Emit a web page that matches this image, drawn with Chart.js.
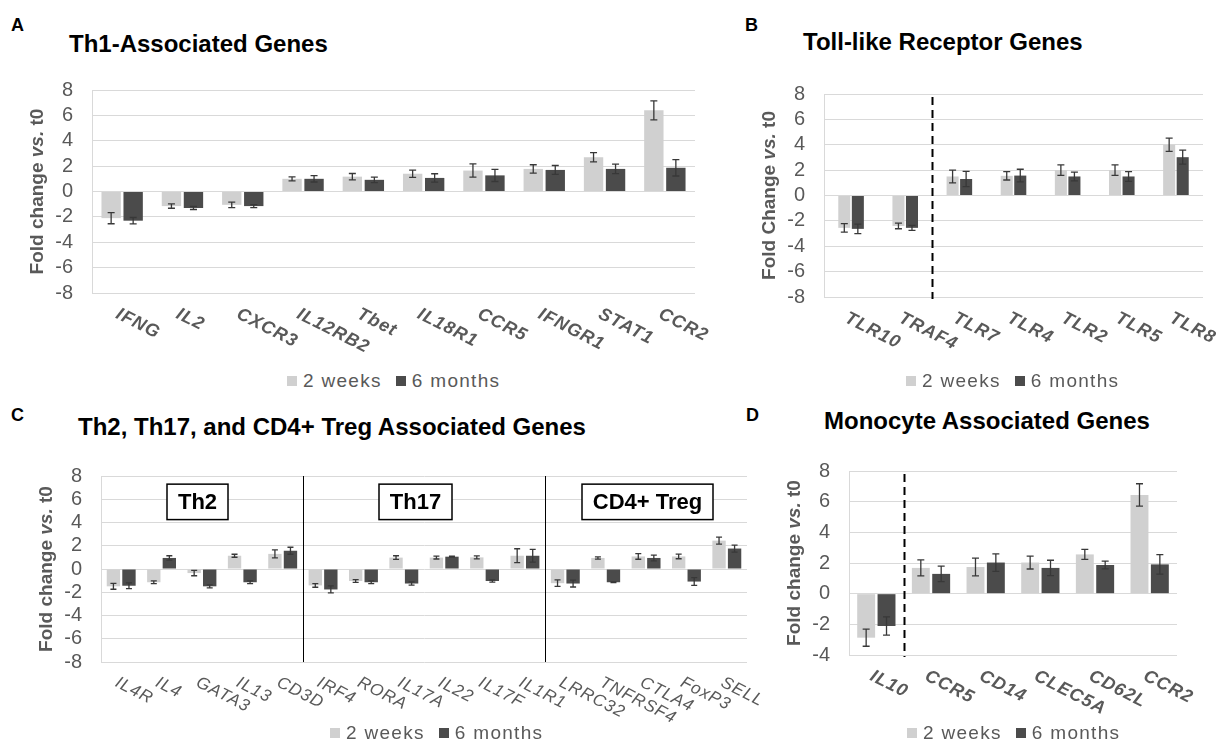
<!DOCTYPE html>
<html>
<head>
<meta charset="utf-8">
<script src="https://cdn.jsdelivr.net/npm/chart.js@4.4.0/dist/chart.umd.min.js"></script>
<style>
  body { margin: 0; width: 1225px; height: 742px; background: #fff; position: relative; overflow: hidden;
         font-family: 'Liberation Sans', Arial, sans-serif; }
  .abs { position: absolute; white-space: nowrap; color: #000; font-weight: bold; }
  .lbl { font-size: 18px; line-height: 18px; }
  .ttl { font-size: 24px; line-height: 24px; }
  .leg { position: absolute; height: 22px; display: flex; align-items: center; font-size: 19px;
         letter-spacing: 1.3px; color: #595959; white-space: nowrap; }
  .sw { width: 10px; height: 10px; margin-right: 6px; }
  .gap { width: 14px; }
  canvas { position: absolute; }
</style>
</head>
<body>
<div class="abs lbl" style="left:11px;top:16px">A</div>
<div class="abs ttl" style="left:69px;top:32px">Th1-Associated Genes</div>
<div class="abs lbl" style="left:745px;top:16px">B</div>
<div class="abs ttl" style="left:803px;top:30px">Toll-like Receptor Genes</div>
<div class="abs lbl" style="left:11px;top:406px">C</div>
<div class="abs ttl" style="left:78px;top:415px">Th2, Th17, and CD4+ Treg Associated Genes</div>
<div class="abs lbl" style="left:746px;top:406px">D</div>
<div class="abs ttl" style="left:824px;top:409px">Monocyte Associated Genes</div>

<script>
// Serier
const seriesNames = ['2 weeks', '6 months'];
const seriesColors = ['#d0d0d0', '#4b4b4b'];
const yStep = 2;

// A - Th1
const thOneGenes = ['IFNG', 'IL2', 'CXCR3', 'IL12RB2', 'Tbet', 'IL18R1', 'CCR5', 'IFNGR1', 'STAT1', 'CCR2'];
const thOne2wk = [-2.1, -1.15, -1.05, 1.0, 1.17, 1.4, 1.65, 1.78, 2.7, 6.4];
const thOne2wkErr = [0.44, 0.17, 0.22, 0.16, 0.25, 0.29, 0.52, 0.33, 0.37, 0.75];
const thOne6mo = [-2.3, -1.3, -1.15, 1.0, 0.92, 1.07, 1.27, 1.7, 1.78, 1.87];
const thOne6moErr = [0.25, 0.12, 0.12, 0.25, 0.22, 0.33, 0.48, 0.35, 0.37, 0.65];

// B - TLR
const tlrGenes = ['TLR10', 'TRAF4', 'TLR7', 'TLR4', 'TLR2', 'TLR5', 'TLR8'];
const tlr2wk = [-2.55, -2.4, 1.5, 1.55, 2.0, 2.0, 4.0];
const tlr2wkErr = [0.34, 0.22, 0.5, 0.33, 0.42, 0.42, 0.52];
const tlr6mo = [-2.63, -2.55, 1.3, 1.57, 1.5, 1.5, 3.02];
const tlr6moErr = [0.37, 0.2, 0.6, 0.5, 0.35, 0.38, 0.55];

// C - Th2 / Th17 / Treg
const tregGenes = ['IL4R', 'IL4', 'GATA3', 'IL13', 'CD3D', 'IRF4', 'RORA', 'IL17A', 'IL22', 'IL17F',
                   'IL1R1', 'LRRC32', 'TNFRSF4', 'CTLA4', 'FoxP3', 'SELL'];
const treg2wk = [-1.49, -1.14, -0.35, 1.14, 1.3, -1.41, -1.03, 0.98, 0.98, 1.0,
                 1.14, -1.22, 0.95, 1.08, 1.08, 2.44];
const treg2wkErr = [0.25, 0.11, 0.23, 0.13, 0.34, 0.16, 0.12, 0.16, 0.12, 0.13,
                    0.6, 0.28, 0.1, 0.24, 0.2, 0.3];
const treg6mo = [-1.44, 0.95, -1.49, -1.14, 1.57, -1.76, -1.14, -1.25, 1.06, -1.03,
                 1.14, -1.25, -1.14, 0.95, -1.08, 1.76];
const treg6moErr = [0.24, 0.19, 0.13, 0.11, 0.3, 0.3, 0.12, 0.14, 0.04, 0.1,
                    0.55, 0.3, 0.04, 0.25, 0.33, 0.3];
const tregGroups = ['Th2', 'Th17', 'CD4+ Treg'];

// D - Monocyte
const monoGenes = ['IL10', 'CCR5', 'CD14', 'CLEC5A', 'CD62L', 'CCR2'];
const mono2wk = [-2.87, 1.68, 1.74, 2.03, 2.56, 6.44];
const mono2wkErr = [0.56, 0.52, 0.58, 0.42, 0.33, 0.73];
const mono6mo = [-2.11, 1.29, 2.03, 1.68, 1.87, 1.91];
const mono6moErr = [0.6, 0.5, 0.57, 0.5, 0.25, 0.64];

const FONT = "'Liberation Sans', Arial, sans-serif";
const GRAY = '#595959';

// feilstolper
const errorBars = {
  id: 'errorBars',
  afterDatasetsDraw(chart, args, opts) {
    const ctx = chart.ctx, y = chart.scales.y;
    chart.data.datasets.forEach((ds, i) => {
      chart.getDatasetMeta(i).data.forEach((bar, j) => {
        const top = y.getPixelForValue(ds.data[j] + ds.errors[j]);
        const bot = y.getPixelForValue(ds.data[j] - ds.errors[j]);
        ctx.save();
        ctx.strokeStyle = '#383838';
        ctx.lineWidth = 1.3;
        ctx.beginPath();
        ctx.moveTo(bar.x, top); ctx.lineTo(bar.x, bot);
        ctx.moveTo(bar.x - opts.cap, top); ctx.lineTo(bar.x + opts.cap, top);
        ctx.moveTo(bar.x - opts.cap, bot); ctx.lineTo(bar.x + opts.cap, bot);
        ctx.stroke();
        ctx.restore();
      });
    });
  }
};

// skrå kategorietiketter
const slantLabels = {
  id: 'slantLabels',
  afterDraw(chart, args, opts) {
    const ctx = chart.ctx, x = chart.scales.x, area = chart.chartArea;
    ctx.save();
    ctx.font = opts.font;
    ctx.fillStyle = GRAY;
    ctx.letterSpacing = '1px';
    ctx.textAlign = 'left';
    ctx.textBaseline = 'top';
    chart.data.labels.forEach((lab, i) => {
      ctx.save();
      ctx.translate(x.getPixelForValue(i) - 1, area.bottom + 12);
      ctx.rotate(27 * Math.PI / 180);
      ctx.fillText(lab, 0, 0);
      ctx.restore();
    });
    ctx.restore();
  }
};

// y-aksetittel med kursiv "vs."
const yTitle = {
  id: 'yTitle',
  afterDraw(chart, args, opts) {
    const ctx = chart.ctx, area = chart.chartArea;
    const parts = [[opts.text[0], 'bold '], [opts.text[1], 'italic bold '], [opts.text[2], 'bold ']];
    ctx.save();
    ctx.fillStyle = GRAY;
    ctx.textBaseline = 'middle';
    ctx.textAlign = 'left';
    let total = 0;
    parts.forEach(p => { ctx.font = p[1] + '19px ' + FONT; total += ctx.measureText(p[0]).width; });
    ctx.translate(area.left - 54, (area.top + area.bottom) / 2);
    ctx.rotate(-Math.PI / 2);
    let pos = -total / 2;
    parts.forEach(p => {
      ctx.font = p[1] + '19px ' + FONT;
      ctx.fillText(p[0], pos, 0);
      pos += ctx.measureText(p[0]).width;
    });
    ctx.restore();
  }
};

// skillelinjer mellom grupper
const separators = {
  id: 'separators',
  afterDatasetsDraw(chart, args, opts) {
    if (!opts.after) return;
    const ctx = chart.ctx, x = chart.scales.x, area = chart.chartArea;
    ctx.save();
    ctx.strokeStyle = '#000';
    ctx.lineWidth = opts.width;
    ctx.setLineDash(opts.dash);
    opts.after.forEach(i => {
      const px = Math.round((x.getPixelForValue(i) + x.getPixelForValue(i + 1)) / 2) + 0.5;
      ctx.beginPath();
      ctx.moveTo(px, area.top + (opts.dash.length ? 3 : 0));
      ctx.lineTo(px, area.bottom + (opts.dash.length ? 2 : 0));
      ctx.stroke();
    });
    ctx.restore();
  }
};

// gruppebokser i panel C
const groupBoxes = {
  id: 'groupBoxes',
  afterDraw(chart, args, opts) {
    if (!opts.boxes) return;
    const ctx = chart.ctx, y = chart.scales.y, area = chart.chartArea;
    const top = y.getPixelForValue(7.3), bot = y.getPixelForValue(4.25);
    ctx.save();
    ctx.font = 'bold 22px ' + FONT;
    ctx.textAlign = 'center';
    ctx.textBaseline = 'middle';
    opts.boxes.forEach(b => {
      const x0 = area.left + b.x0, x1 = area.left + b.x1;
      ctx.fillStyle = '#fff';
      ctx.fillRect(x0, top, x1 - x0, bot - top);
      ctx.strokeStyle = '#000';
      ctx.lineWidth = 1.5;
      ctx.strokeRect(x0, top, x1 - x0, bot - top);
      ctx.fillStyle = '#000';
      ctx.fillText(b.text, (x0 + x1) / 2, (top + bot) / 2 + 1);
    });
    ctx.restore();
  }
};

function makePanel(plot, labels, s1, e1, s2, e2, yMin, yMax, opts) {
  const yW = 70, padTop = 20, xH = 75, padR = opts.padR || 30;
  const canvas = document.createElement('canvas');
  const w = plot.r - plot.l + yW + padR;
  const h = plot.b - plot.t + padTop + xH;
  canvas.width = w; canvas.height = h;
  canvas.style.left = (plot.l - yW) + 'px';
  canvas.style.top = (plot.t - padTop) + 'px';
  document.body.appendChild(canvas);

  new Chart(canvas, {
    type: 'bar',
    data: {
      labels: labels,
      datasets: [
        { label: seriesNames[0], data: s1, errors: e1, backgroundColor: seriesColors[0],
          categoryPercentage: opts.cat, barPercentage: opts.bar },
        { label: seriesNames[1], data: s2, errors: e2, backgroundColor: seriesColors[1],
          categoryPercentage: opts.cat, barPercentage: opts.bar }
      ]
    },
    options: {
      responsive: false,
      animation: false,
      layout: { padding: { top: padTop, right: padR, left: 0, bottom: 0 } },
      plugins: {
        legend: { display: false },
        tooltip: { enabled: false },
        errorBars: { cap: opts.cap },
        slantLabels: { font: opts.labelFont },
        yTitle: { text: opts.yTitle },
        separators: { after: opts.sepAfter, dash: opts.dash || [], width: opts.sepWidth || 1 },
        groupBoxes: { boxes: opts.boxes }
      },
      scales: {
        x: {
          grid: { display: false },
          border: { display: false },
          ticks: { display: false },
          afterFit: s => { s.height = xH; }
        },
        y: {
          min: yMin, max: yMax,
          ticks: { stepSize: yStep, autoSkip: false, color: GRAY, padding: 19,
                   font: { size: 20, family: FONT } },
          grid: { color: '#d9d9d9', drawTicks: false },
          border: { display: true, color: '#d9d9d9' },
          afterFit: s => { s.width = yW; }
        }
      }
    },
    plugins: [errorBars, slantLabels, yTitle, separators, groupBoxes]
  });
}

function makeLegend(left, cy) {
  const div = document.createElement('div');
  div.className = 'leg';
  div.style.left = left + 'px';
  div.style.top = (cy - 11) + 'px';
  div.innerHTML =
    `<span class="sw" style="background:${seriesColors[0]}"></span><span>${seriesNames[0]}</span>` +
    `<span class="gap"></span>` +
    `<span class="sw" style="background:${seriesColors[1]}"></span><span>${seriesNames[1]}</span>`;
  document.body.appendChild(div);
}

const boldItal = 'italic bold 18px ' + FONT;

makePanel({ l: 92, t: 79, r: 695, b: 293 }, thOneGenes, thOne2wk, thOne2wkErr, thOne6mo, thOne6moErr, -8, 8,
  { cat: 0.73, bar: 0.88, cap: 3.5, labelFont: boldItal, yTitle: ['Fold change ', 'vs.', ' t0'] });

makePanel({ l: 824, t: 83, r: 1203, b: 297 }, tlrGenes, tlr2wk, tlr2wkErr, tlr6mo, tlr6moErr, -8, 8,
  { cat: 0.5, bar: 0.89, cap: 3.5, padR: 22, labelFont: boldItal, yTitle: ['Fold Change ', 'vs.', ' t0'],
    sepAfter: [1], dash: [8, 5], sepWidth: 2 });

makePanel({ l: 101, t: 465, r: 747, b: 662 }, tregGenes, treg2wk, treg2wkErr, treg6mo, treg6moErr, -8, 8,
  { cat: 0.77, bar: 0.86, cap: 3, labelFont: 'italic 17px ' + FONT, yTitle: ['Fold change ', 'vs.', ' t0'],
    sepAfter: [4, 10],
    boxes: [
      { text: tregGroups[0], x0: 66, x1: 127 },
      { text: tregGroups[1], x0: 278, x1: 351 },
      { text: tregGroups[2], x0: 481, x1: 612 }
    ] });

makePanel({ l: 849, t: 460, r: 1177, b: 655 }, monoGenes, mono2wk, mono2wkErr, mono6mo, mono6moErr, -4, 8,
  { cat: 0.745, bar: 0.88, cap: 3.5, labelFont: boldItal, yTitle: ['Fold change ', 'vs.', ' t0'],
    sepAfter: [0], dash: [8, 5], sepWidth: 2 });

makeLegend(287, 381);
makeLegend(906, 381);
makeLegend(330, 733);
makeLegend(907, 733);
</script>
</body>
</html>
